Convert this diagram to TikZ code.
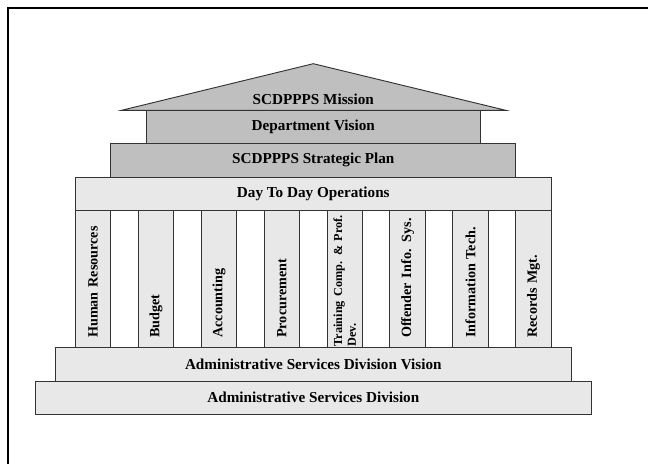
\documentclass[tikz,border=0pt]{standalone}
\usepackage{fontspec}
\setmainfont{Liberation Serif}
\usepackage{tikz}
\usetikzlibrary{positioning}

\begin{document}
\begin{tikzpicture}[x=0.75pt, y=-0.75pt,
        upperbox/.style={rectangle, draw=black!80, fill=black!25, line width=0.7pt, outer sep=0pt, minimum height=25pt, font=\bfseries\fontsize{11.4}{13}\selectfont},
        lowerbox/.style={rectangle, draw=black!80, fill=black!9, line width=0.7pt, outer sep=0pt, minimum height=25pt, font=\bfseries\fontsize{11.4}{13}\selectfont},
        pillar/.style={rectangle, draw=black!80, fill=black!9, line width=0.7pt, outer sep=0pt, rotate=90, anchor=east, minimum width=103pt, minimum height=26.6pt, text width=88pt, inner xsep=7.5pt, inner ysep=1pt, align=left, font=\bfseries\fontsize{10.6}{11.5}\selectfont},
        roof/.style={draw=black!80, fill=black!25, line width=0.7pt, line join=miter},
    ]
    \useasboundingbox (0,0) rectangle (648,464);
    \draw[line width=1.6pt] (648,8) -- (8,8) -- (8,464);

    \node[lowerbox, minimum width=417.5pt] (Division) at (313.3,397.7) {Administrative Services Division};
    \node[lowerbox, minimum width=386.8pt] (Vision) [above=0pt of Division] {Administrative Services Division Vision};
    \node[lowerbox, minimum width=356.8pt] (Ops) [above=103pt of Vision] {Day To Day Operations};
    \node[upperbox, minimum width=303.8pt] (Strategic) [above=0pt of Ops] {SCDPPPS Strategic Plan};
    \node[upperbox, minimum width=250.5pt] (Dept) [above=0pt of Strategic] {Department Vision};

    \node[pillar] (HR) at ([xshift=13.3pt]Ops.south west) {\mbox{Human Resources}};
    \node[pillar] (Budget) at ([xshift=47.17pt]HR.east) {Budget};
    \node[pillar] (Accounting) at ([xshift=47.17pt]Budget.east) {Accounting};
    \node[pillar] (Procurement) at ([xshift=47.17pt]Accounting.east) {Procurement};
    \node[pillar, inner xsep=1pt, text width=101pt, font=\bfseries\fontsize{9.2}{10.2}\selectfont] (Training) at ([xshift=47.17pt]Procurement.east) {\mbox{Training Comp. \& Prof.}\\Dev.};
    \node[pillar] (Offender) at ([xshift=47.17pt]Training.east) {\mbox{Offender Info. Sys.}};
    \node[pillar] (IT) at ([xshift=47.17pt]Offender.east) {\mbox{Information Tech.}};
    \node[pillar] (Records) at ([xshift=47.17pt]IT.east) {Records Mgt.};

    \coordinate (RoofL) at ([xshift=-18.75pt]Dept.north west);
    \coordinate (RoofR) at ([xshift=19.3pt]Dept.north east);
    \coordinate (RoofTop) at ([yshift=35pt]Dept.north);
    \draw[roof] (RoofL) -- (RoofTop) -- (RoofR) -- cycle;
    \node[font=\bfseries\fontsize{11.4}{13}\selectfont, anchor=base] (Mission) at ([yshift=4.3pt]Dept.north) {SCDPPPS Mission};
\end{tikzpicture}
\end{document}
